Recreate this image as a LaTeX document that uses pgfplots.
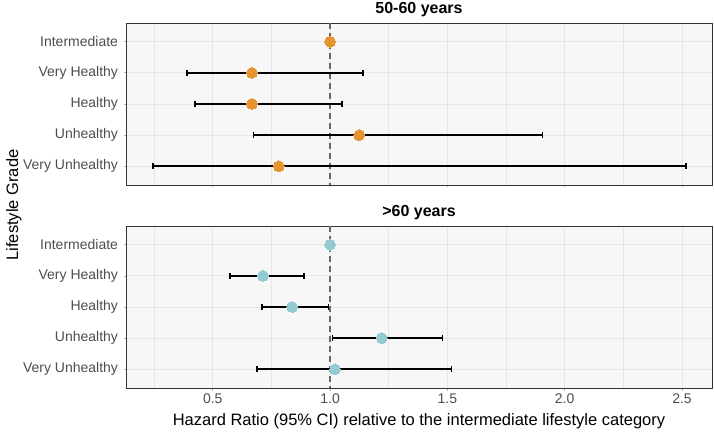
\documentclass[border=0pt]{standalone}
\usepackage{pgfplots}
\pgfplotsset{compat=1.18}
\usepackage{pgfplotstable}
\usepackage{fontspec}
\setmainfont{Liberation Sans}
\definecolor{orangept}{HTML}{E69332}
\definecolor{bluept}{HTML}{94CBD2}
\definecolor{panelbg}{HTML}{F7F7F7}
\definecolor{gridc}{HTML}{E6E6E6}
\definecolor{tickc}{HTML}{4D4D4D}
\definecolor{borderc}{HTML}{333333}

% idx: 0 Intermediate,1 Very Healthy,2 Healthy,3 Unhealthy,4 Very Unhealthy
\pgfplotstableread{
idx hr lo hi
0 1.000 1.000 1.000
1 0.667 0.390 1.139
2 0.667 0.425 1.050
3 1.124 0.673 1.906
4 0.781 0.244 2.516
}\younger
\pgfplotstableread{
idx hr lo hi
0 1.000 1.000 1.000
1 0.714 0.574 0.889
2 0.838 0.709 0.993
3 1.220 1.010 1.479
4 1.021 0.688 1.517
}\older

\pgfplotsset{
  forest/.style={
    scale only axis, width=586bp, height=162bp, anchor=south west,
    xmin=0.13, xmax=2.628, ymin=-0.6, ymax=4.6, y dir=reverse,
    axis background/.style={fill=panelbg},
    axis line style={draw=borderc, line width=0.9bp},
    xtick={0.5,1.0,1.5,2.0,2.5},
    minor xtick={0.25,0.75,1.25,1.75,2.25},
    ytick={0,1,2,3,4},
    yticklabels={Intermediate,Very Healthy,Healthy,Unhealthy,Very Unhealthy},
    xmajorgrids, xminorgrids, ymajorgrids,
    major grid style={draw=gridc, line width=0.9bp},
    minor grid style={draw=gridc, line width=0.6bp},
    tick align=outside, major tick length=2.5bp, minor tick length=0pt,
    tick style={draw=gray!60, line width=0.7bp},
    xtick pos=bottom, ytick pos=left,
    /pgf/number format/assume math mode=true,
    /pgf/number format/.cd, fixed, fixed zerofill, precision=1, /pgfplots/.cd,
    tick label style={font=\fontsize{14bp}{16bp}\selectfont, text=tickc},
    yticklabel style={xshift=-2bp},
    title style={at={(0.5,1)}, anchor=base, yshift=4bp, font=\fontsize{16bp}{18bp}\selectfont\bfseries},
    clip=false,
  },
  ci/.style={black, line width=1.9bp, solid, mark=|, mark size=3bp,
    mark options={solid, line width=1.7bp}, forget plot},
}

\begin{document}
\begin{tikzpicture}
\useasboundingbox (0bp,0bp) rectangle (714bp,432bp);

\begin{axis}[forest, at={(126bp,247bp)}, title={50-60 years}, xticklabels={}]
  \draw[draw=gray!80!black, line width=1.4bp, dash pattern=on 6bp off 4bp]
    (axis cs:1,-0.6) -- (axis cs:1,4.6);
  \addplot[ci] coordinates {(0.390,1) (1.139,1)};
  \addplot[ci] coordinates {(0.425,2) (1.050,2)};
  \addplot[ci] coordinates {(0.673,3) (1.906,3)};
  \addplot[ci] coordinates {(0.244,4) (2.516,4)};
  \addplot[only marks, mark=*, mark size=5.4bp, mark options={fill=orangept, draw=orangept, line width=0pt}]
    table[x=hr, y=idx] {\younger};
\end{axis}

\begin{axis}[forest, at={(126bp,44bp)}, title={>60 years},
  xlabel={Hazard Ratio (95\% CI) relative to the intermediate lifestyle category},
  xlabel style={at={(axis description cs:0.5,0)}, anchor=base, yshift=-37bp,
    font=\fontsize{16.5bp}{18bp}\selectfont, text=black}]
  \draw[draw=gray!80!black, line width=1.4bp, dash pattern=on 6bp off 4bp]
    (axis cs:1,-0.6) -- (axis cs:1,4.6);
  \addplot[ci] coordinates {(0.574,1) (0.889,1)};
  \addplot[ci] coordinates {(0.709,2) (0.993,2)};
  \addplot[ci] coordinates {(1.010,3) (1.479,3)};
  \addplot[ci] coordinates {(0.688,4) (1.517,4)};
  \addplot[only marks, mark=*, mark size=5.4bp, mark options={fill=bluept, draw=bluept, line width=0pt}]
    table[x=hr, y=idx] {\older};
\end{axis}

\node[rotate=90, anchor=base, font=\fontsize{16.5bp}{18bp}\selectfont] at (18bp,227bp) {Lifestyle Grade};
\end{tikzpicture}
\end{document}
